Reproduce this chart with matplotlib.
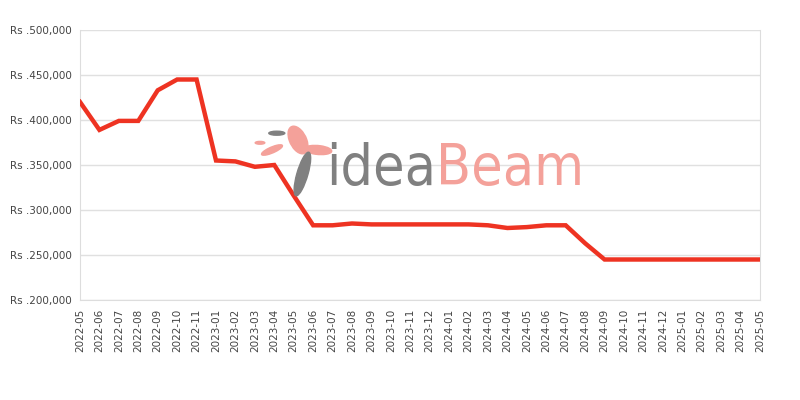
import matplotlib.pyplot as plt
from matplotlib.patches import Ellipse
from matplotlib.ticker import FuncFormatter

months = [
    "2022-05", "2022-06", "2022-07", "2022-08", "2022-09", "2022-10", "2022-11",
    "2023-01", "2023-02", "2023-03", "2023-04", "2023-05", "2023-06", "2023-07",
    "2023-08", "2023-09", "2023-10", "2023-11", "2023-12", "2024-01", "2024-02",
    "2024-03", "2024-04", "2024-05", "2024-06", "2024-07", "2024-08", "2024-09",
    "2024-10", "2024-11", "2024-12", "2025-01", "2025-02", "2025-03", "2025-04",
    "2025-05",
]
prices = [
    420000, 389000, 399000, 399000, 433000, 445000, 445000,
    355000, 354000, 348000, 350000, 316000, 283000, 283000,
    285000, 284000, 284000, 284000, 284000, 284000, 284000,
    283000, 280000, 281000, 283000, 283000, 263000, 245000,
    245000, 245000, 245000, 245000, 245000, 245000, 245000,
    245000,
]

fig = plt.figure(figsize=(8, 4), dpi=100)
ax = fig.add_axes([0.1, 0.25, 0.85, 0.675])

# watermark
fig.text(0.545, 0.5775, "idea", color="#808080", fontsize=41,
         family="DejaVu Sans", fontstretch="condensed", fontweight="medium",
         ha="right", va="center", zorder=0)
fig.text(0.545, 0.5775, "Beam", color="#f4a19a", fontsize=41,
         family="DejaVu Sans", fontstretch="condensed", fontweight="medium",
         ha="left", va="center", zorder=0)
for (cx, cy, w, h, ang, col) in [
    (0.3725, 0.65, 0.022, 0.07, 10, "#f4a19a"),
    (0.3975, 0.625, 0.035, 0.022, -15, "#f4a19a"),
    (0.378, 0.565, 0.014, 0.11, -8, "#808080"),
    (0.346, 0.667, 0.02, 0.01, 0, "#808080"),
    (0.34, 0.625, 0.012, 0.035, -45, "#f4a19a"),
    (0.325, 0.643, 0.012, 0.007, 0, "#f4a19a"),
]:
    fig.patches.append(Ellipse((cx, cy), w, h, angle=ang, color=col,
                               transform=fig.transFigure, zorder=0))

x = range(len(months))
ax.plot(x, prices, color="#ee3322", linewidth=3.2, solid_joinstyle="miter", zorder=3)

ax.set_xlim(0, len(months) - 1)
ax.set_ylim(200000, 500000)
ax.set_yticks(range(200000, 500001, 50000))
ax.yaxis.set_major_formatter(FuncFormatter(lambda v, p: "Rs .{:,.0f}".format(v)))
ax.set_xticks(list(x))
ax.set_xticklabels(months, rotation=90)
ax.tick_params(length=0, labelsize=7.5, labelcolor="#444444", pad=6)
ax.grid(axis="y", color="#e0e0e0", linewidth=1)
ax.set_axisbelow(True)
for s in ["left", "right", "bottom"]:
    ax.spines[s].set_color("#dddddd")
ax.spines["top"].set_visible(False)
ax.patch.set_alpha(0)

fig.savefig("out.png", dpi=100)
